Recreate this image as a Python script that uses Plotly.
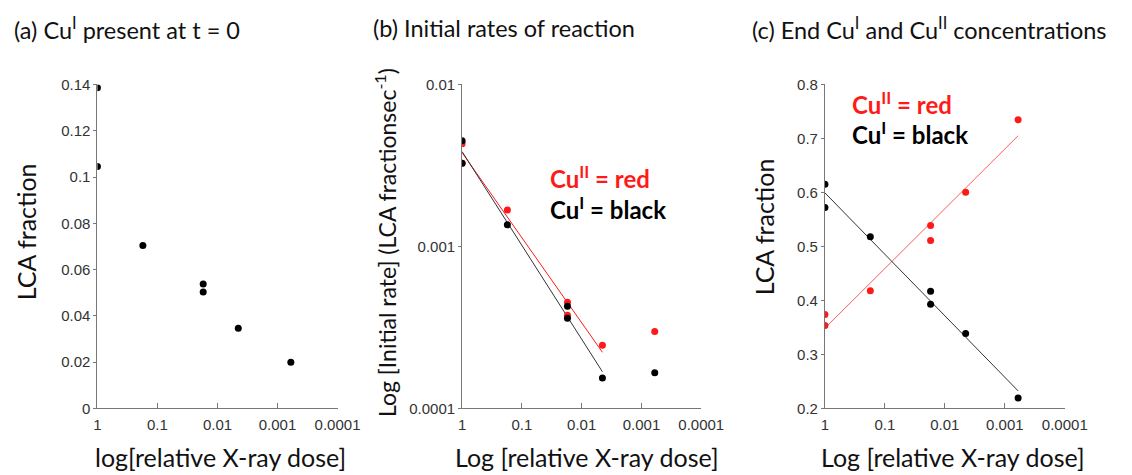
import numpy as np
import plotly.graph_objects as go

# ---- data ----
# panel (a): Cu(I) present at t = 0
a_dose = [1, 1, 0.175, 0.0173, 0.0173, 0.0045, 0.0006]
a_frac = [0.1386, 0.1046, 0.0704, 0.0538, 0.0503, 0.0347, 0.0200]

# panel (b): initial rates
b_dose_red = [1, 1, 0.175, 0.0173, 0.0173, 0.0045, 0.0006]
b_rate_red = [0.0043, 0.00327, 0.00168, 0.000452, 0.000376, 0.000246, 0.000299]
b_dose_blk = [1, 1, 0.175, 0.0173, 0.0173, 0.0045, 0.0006]
b_rate_blk = [0.00449, 0.00327, 0.00136, 0.000428, 0.000361, 0.000154, 0.000166]
b_fit_n = 6  # points used in fit (excluding last dose)

# panel (c): end concentrations
c_dose = [1, 1, 0.175, 0.0173, 0.0173, 0.0045, 0.0006]
c_red = [0.374, 0.3536, 0.418, 0.539, 0.511, 0.6005, 0.7345]
c_blk = [0.6154, 0.572, 0.518, 0.417, 0.393, 0.339, 0.2196]

x_tickvals = [1, 0.1, 0.01, 0.001, 0.0001]
x_ticktext = ["1", "0.1", "0.01", "0.001", "0.0001"]
a_yticks = [0, 0.02, 0.04, 0.06, 0.08, 0.1, 0.12, 0.14]
a_yticktext = ["0", "0.02", "0.04", "0.06", "0.08", "0.1", "0.12", "0.14"]
b_yticks = [0.0001, 0.001, 0.01]
b_yticktext = ["0.0001", "0.001", "0.01"]
c_yticks = [0.2, 0.3, 0.4, 0.5, 0.6, 0.7, 0.8]
c_yticktext = ["0.2", "0.3", "0.4", "0.5", "0.6", "0.7", "0.8"]

RED = "#ff1a1a"
W, H = 1132, 475

def px_x(p):
    return p / W

def px_y(p):
    return (H - p) / H

fig = go.Figure()

mk_blk = dict(color="black", size=7)
mk_red = dict(color=RED, size=7)

# (a)
fig.add_trace(go.Scatter(x=a_dose, y=a_frac, mode="markers", marker=mk_blk,
                         xaxis="x", yaxis="y", showlegend=False))

# (b) fits in log-log
def loglog_fit(xs, ys, n):
    lx = np.log10(xs[:n]); ly = np.log10(ys[:n])
    m, c = np.polyfit(lx, ly, 1)
    xe = np.array([max(xs[:n]), min(xs[:n])])
    return xe, 10 ** (m * np.log10(xe) + c)

xr, yr = loglog_fit(b_dose_red, b_rate_red, b_fit_n)
xb, yb = loglog_fit(b_dose_blk, b_rate_blk, b_fit_n)
fig.add_trace(go.Scatter(x=xr, y=yr, mode="lines", line=dict(color=RED, width=1),
                         xaxis="x2", yaxis="y2", showlegend=False))
fig.add_trace(go.Scatter(x=xb, y=yb, mode="lines", line=dict(color="#333333", width=1),
                         xaxis="x2", yaxis="y2", showlegend=False))
fig.add_trace(go.Scatter(x=b_dose_red, y=b_rate_red, mode="markers", marker=mk_red,
                         xaxis="x2", yaxis="y2", showlegend=False))
fig.add_trace(go.Scatter(x=b_dose_blk, y=b_rate_blk, mode="markers", marker=mk_blk,
                         xaxis="x2", yaxis="y2", showlegend=False))

# (c) fits semi-log
def semilog_fit(xs, ys):
    lx = np.log10(xs)
    m, c = np.polyfit(lx, ys, 1)
    xe = np.array([max(xs), min(xs)])
    return xe, m * np.log10(xe) + c

xcr, ycr = semilog_fit(c_dose, c_red)
xcb, ycb = semilog_fit(c_dose, c_blk)
fig.add_trace(go.Scatter(x=xcr, y=ycr, mode="lines", line=dict(color="#ff5a5a", width=1),
                         xaxis="x3", yaxis="y3", showlegend=False))
fig.add_trace(go.Scatter(x=xcb, y=ycb, mode="lines", line=dict(color="#333333", width=1),
                         xaxis="x3", yaxis="y3", showlegend=False))
fig.add_trace(go.Scatter(x=c_dose, y=c_red, mode="markers", marker=mk_red,
                         xaxis="x3", yaxis="y3", showlegend=False))
fig.add_trace(go.Scatter(x=c_dose, y=c_blk, mode="markers", marker=mk_blk,
                         xaxis="x3", yaxis="y3", showlegend=False))

tickfont = dict(family="Liberation Sans, Arial", size=15, color="#333333")
ydom = [px_y(414.3), px_y(78.3)]

def xax(x0, x1, anchor):
    return dict(domain=[px_x(x0), px_x(x1)], anchor=anchor, type="log",
                range=[0, -4], tickvals=x_tickvals, ticktext=x_ticktext,
                ticks="inside", ticklen=5, tickcolor="#777777",
                ticklabelstandoff=3,
                showline=True, linecolor="#777777", linewidth=1,
                showgrid=False, zeroline=False, tickfont=tickfont)

def yax(anchor, **kw):
    d = dict(domain=ydom, anchor=anchor, ticks="outside", ticklen=3,
             tickcolor="#777777", showline=True, linecolor="#777777", linewidth=1,
             showgrid=False, zeroline=False, tickfont=tickfont)
    d.update(kw)
    return d

fig.update_layout(
    width=W, height=H,
    margin=dict(l=0, r=0, t=0, b=0),
    paper_bgcolor="white", plot_bgcolor="white",
    xaxis=xax(95.7, 341.7, "y"),
    yaxis=yax("x", range=[0, 0.14], tickvals=a_yticks, ticktext=a_yticktext),
    xaxis2=xax(469.3, 714.3, "y2"),
    yaxis2=yax("x2", type="log", range=[-4, -2], tickvals=b_yticks, ticktext=b_yticktext),
    xaxis3=xax(841, 1086.7, "y3"),
    yaxis3=yax("x3", range=[0.2, 0.8], tickvals=c_yticks, ticktext=c_yticktext),
)

TF = "Lato, Open Sans, sans-serif"
ann = []
def text(x, y, s, size, color="#111111", xanchor="left", angle=0, bold=False):
    if bold:
        s = "<b>" + s + "</b>"
    ann.append(dict(x=px_x(x), y=px_y(y), xref="paper", yref="paper", text=s,
                    showarrow=False, xanchor=xanchor, yanchor="middle", textangle=angle,
                    font=dict(family=TF, size=size, color=color)))

# panel titles
text(8, 20, "(a) Cu<sup>I</sup> present at t = 0", 23.5)
text(376, 20, "(b) Initial rates of reaction", 23.5)
text(764, 20, "(c) End Cu<sup>I</sup> and Cu<sup>II</sup> concentrations", 23.5)

# axis titles
text(222, 465, "log[relative X-ray dose]", 25, xanchor="center")
text(597, 465, "Log [relative X-ray dose]", 25, xanchor="center")
text(972, 465, "Log [relative X-ray dose]", 25, xanchor="center")
text(22, 231, "LCA fraction", 25, xanchor="center", angle=-90)
text(391, 242, "Log [Initial rate] (LCA fractionsec<sup>-1</sup>)", 23, xanchor="center", angle=-90)
text(778, 226, "LCA fraction", 25, xanchor="center", angle=-90)

# legends as text
text(557, 174, "Cu<sup>II</sup> = red", 24, color=RED, bold=True)
text(557, 206, "Cu<sup>I</sup> = black", 24, color="black", bold=True)
text(867, 97, "Cu<sup>II</sup> = red", 24, color=RED, bold=True)
text(867, 129, "Cu<sup>I</sup> = black", 24, color="black", bold=True)

fig.update_layout(annotations=ann)
fig.write_html("out.html")
